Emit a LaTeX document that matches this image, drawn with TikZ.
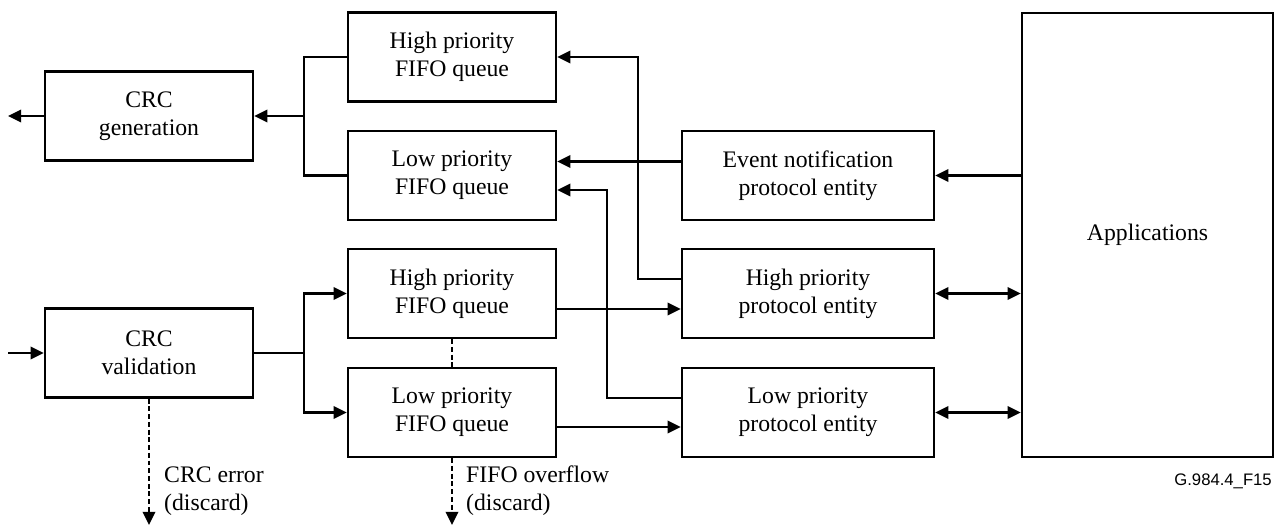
\documentclass[tikz,border=0pt]{standalone}
\usepackage{fontspec}
\setmainfont{Liberation Serif}
\setsansfont{Liberation Sans}
\usetikzlibrary{arrows.meta}

\begin{document}
\begin{tikzpicture}[x=0.02cm,y=-0.02cm,
  line width=1.4pt,
  box/.style={draw, align=center, inner sep=0pt, minimum width=4.16cm, minimum height=1.78cm, font=\fontsize{13.5}{16}\selectfont},
  wbox/.style={box, minimum width=5.04cm},
  arr/.style={-{Triangle[length=7.5pt,width=7pt]}},
  darr/.style={{Triangle[length=7.5pt,width=7pt]}-{Triangle[length=7.5pt,width=7pt]}},
  note/.style={anchor=west, align=left, inner sep=0pt, font=\fontsize{13.5}{16}\selectfont}]
\useasboundingbox (0,0) rectangle (1281,526);

\node[box] (gen) at (149,116) {CRC\\generation};
\node[box] (val) at (149,353) {CRC\\validation};

\node[box] (hf1) at (452,57) {High priority\\FIFO queue};
\node[box] (lf1) at (452,175.5) {Low priority\\FIFO queue};
\node[box] (hf2) at (452,293.5) {High priority\\FIFO queue};
\node[box] (lf2) at (452,412.5) {Low priority\\FIFO queue};

\node[wbox] (ev) at (808,175.5) {Event notification\\protocol entity};
\node[wbox] (hp) at (808,293.5) {High priority\\protocol entity};
\node[wbox] (lp) at (808,412.5) {Low priority\\protocol entity};

\node[draw, inner sep=0pt, minimum width=5.02cm, minimum height=8.88cm, font=\fontsize{13.5}{16}\selectfont] (app) at (1147.5,235) {Applications};

\coordinate (out) at (8,116);
\coordinate (in) at (8,353);
\coordinate (b1) at (304,116);
\coordinate (b2) at (304,353);
\coordinate (e1) at (149,525);
\coordinate (e2) at (452,525);

% transmit side
\draw (hf1.west) -| (b1) |- (lf1.west);
\draw[arr] (b1) -- (gen.east);
\draw[arr] (gen.west) -- (out);
\draw[arr] (app.west |- ev.east) -- (ev.east);
\draw[arr] ([yshift=0.28cm]ev.west) -- ([yshift=0.28cm]lf1.east);
\draw[arr] ([yshift=0.29cm]hp.west) -- ++(-43,0) |- (hf1.east);
\draw[arr] ([yshift=0.29cm]lp.west) -- ++(-74,0) |- ([yshift=-0.29cm]lf1.east);

% receive side
\draw[arr] (in) -- (val.west);
\draw (val.east) -- (b2);
\draw[arr] (b2) |- (hf2.west);
\draw[arr] (b2) |- (lf2.west);
\draw[arr] ([yshift=-0.31cm]hf2.east) -- ([yshift=-0.31cm]hp.west);
\draw[arr] ([yshift=-0.29cm]lf2.east) -- ([yshift=-0.29cm]lp.west);
\draw[darr] (hp.east) -- (app.west |- hp.east);
\draw[darr] (lp.east) -- (app.west |- lp.east);

% discards
\draw[dash pattern=on 2.8pt off 1.6pt] (hf2.south) -- (lf2.north);
\draw[arr, dash pattern=on 2.8pt off 1.6pt] (val.south) -- (e1);
\draw[arr, dash pattern=on 2.8pt off 1.6pt] (lf2.south) -- (e2);
\node[note] (err) at (163,491) {CRC error\\(discard)};
\node[note] (ovf) at (465,491) {FIFO overflow\\(discard)};

\node[anchor=east, inner sep=0pt, font=\sffamily\fontsize{9.5}{11}\selectfont] (tag) at (1273,481) {G.984.4\_F15};
\end{tikzpicture}
\end{document}
